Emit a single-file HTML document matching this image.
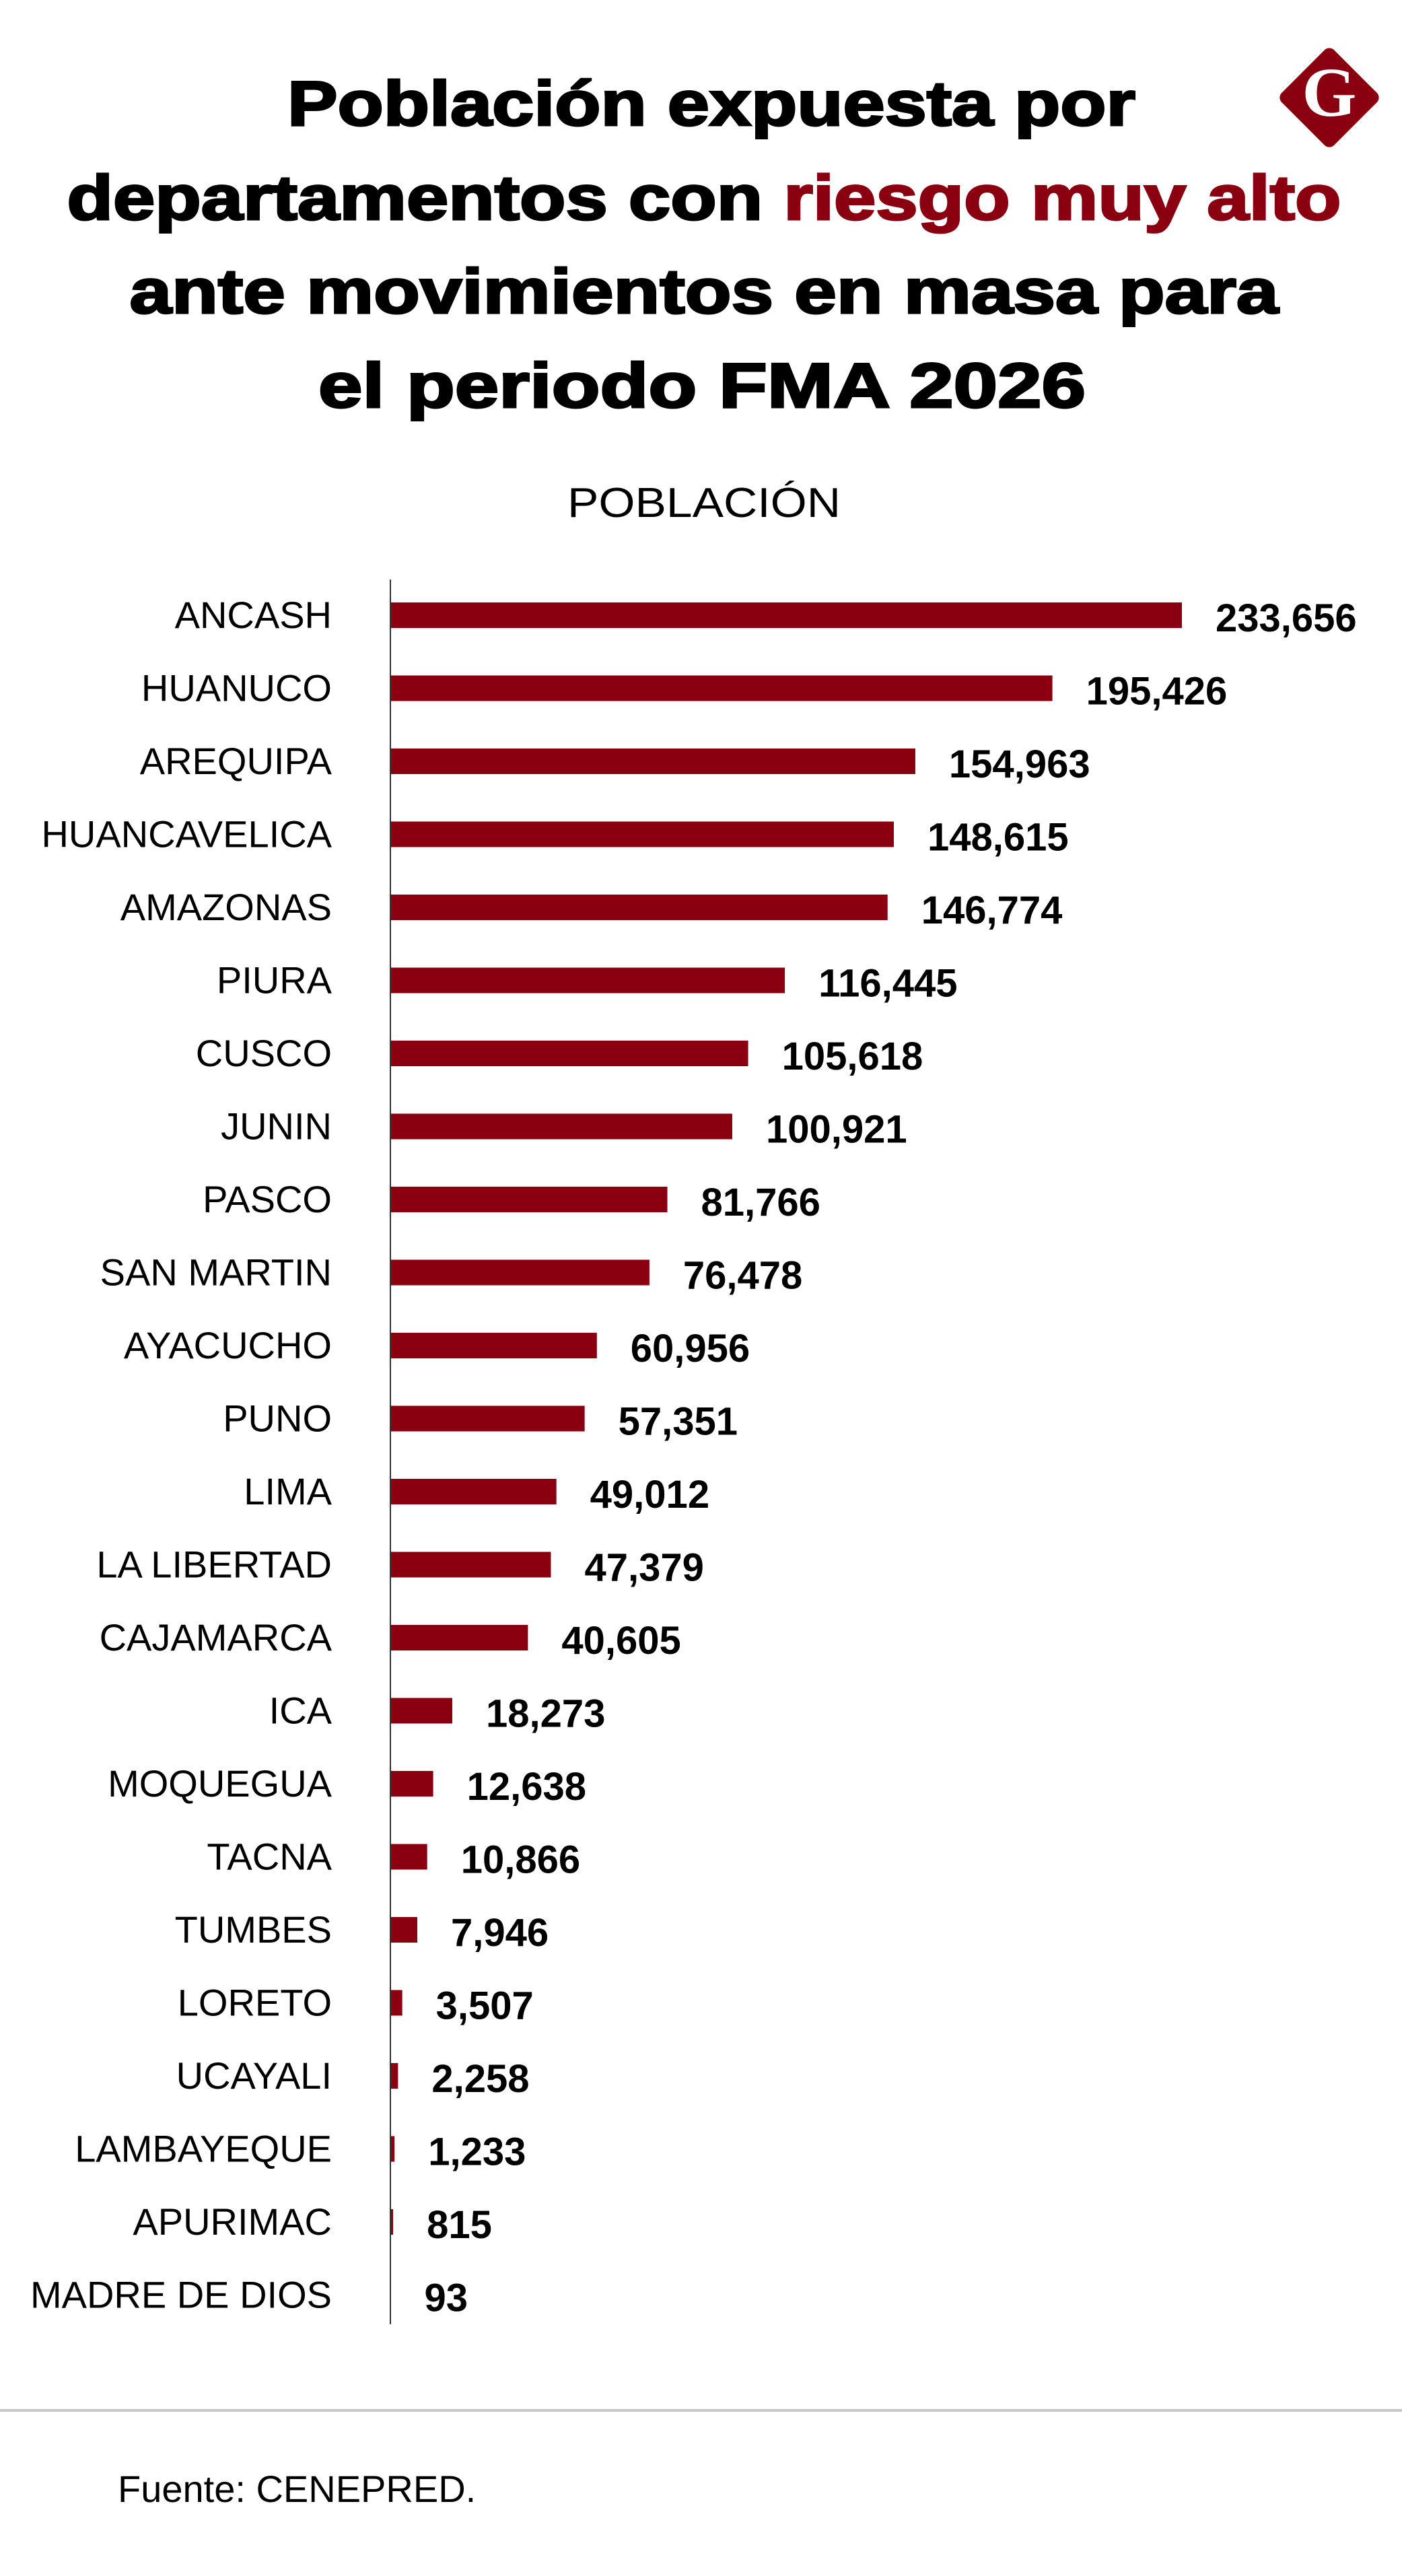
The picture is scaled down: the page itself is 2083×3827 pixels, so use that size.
<!DOCTYPE html>
<html><head><meta charset="utf-8"><style>
html,body{margin:0;padding:0;background:#fff}
svg{display:block}
</style></head><body>
<svg id="chart" width="2083" height="3827" viewBox="0 0 2083 3827" xmlns="http://www.w3.org/2000/svg">
<g font-family="Liberation Sans, sans-serif" font-weight="bold" font-size="94" fill="#000" stroke="#000" stroke-width="3" text-anchor="middle">
<text x="1057" y="186" textLength="1260" lengthAdjust="spacingAndGlyphs">Población expuesta por</text>
<text x="1046" y="326" textLength="1893" lengthAdjust="spacingAndGlyphs">departamentos con <tspan fill="#8b0010" stroke="#8b0010">riesgo muy alto</tspan></text>
<text x="1046" y="465" textLength="1707" lengthAdjust="spacingAndGlyphs">ante movimientos en masa para</text>
<text x="1043" y="605" textLength="1140" lengthAdjust="spacingAndGlyphs">el periodo FMA 2026</text>
</g>
<g>
<rect x="1920" y="90" width="110" height="110" rx="10" transform="rotate(45 1975 145)" fill="#8b0010"/>
<text x="1975" y="172" text-anchor="middle" font-family="Liberation Serif, serif" font-weight="bold" font-size="104" fill="#fff">G</text>
</g>
<text x="1046" y="768" text-anchor="middle" font-family="Liberation Sans, sans-serif" font-size="62" textLength="406" lengthAdjust="spacingAndGlyphs" fill="#000">POBLACIÓN</text>
<g id="bars"></g>
<line x1="580" y1="861" x2="580" y2="3453" stroke="#333" stroke-width="2"/>
<line x1="0" y1="3581" x2="2083" y2="3581" stroke="#c8c8c8" stroke-width="4"/>
<text x="175" y="3717" font-family="Liberation Sans, sans-serif" font-size="56" fill="#000">Fuente: CENEPRED.</text>
</svg>
<script>
const categories = ["ANCASH","HUANUCO","AREQUIPA","HUANCAVELICA","AMAZONAS","PIURA","CUSCO","JUNIN","PASCO","SAN MARTIN","AYACUCHO","PUNO","LIMA","LA LIBERTAD","CAJAMARCA","ICA","MOQUEGUA","TACNA","TUMBES","LORETO","UCAYALI","LAMBAYEQUE","APURIMAC","MADRE DE DIOS"];
const values = [233656,195426,154963,148615,146774,116445,105618,100921,81766,76478,60956,57351,49012,47379,40605,18273,12638,10866,7946,3507,2258,1233,815,93];
const valueLabels = ["233,656","195,426","154,963","148,615","146,774","116,445","105,618","100,921","81,766","76,478","60,956","57,351","49,012","47,379","40,605","18,273","12,638","10,866","7,946","3,507","2,258","1,233","815","93"];

const NS = "http://www.w3.org/2000/svg";
const x0 = 580, xMaxPx = 1176, maxVal = 233656;
const xScale = v => x0 + v / maxVal * xMaxPx;
const yFirst = 914, rowStep = 108.5;
const yScale = i => yFirst + i * rowStep;
const g = document.getElementById('bars');
categories.forEach((c, i) => {
  const cy = yScale(i);
  const lab = document.createElementNS(NS, 'text');
  lab.setAttribute('x', 493); lab.setAttribute('y', cy + 19);
  lab.setAttribute('text-anchor', 'end');
  lab.setAttribute('font-family', 'Liberation Sans, sans-serif');
  lab.setAttribute('font-size', '56');
  lab.textContent = c;
  
  
  g.appendChild(lab);
  const r = document.createElementNS(NS, 'rect');
  r.setAttribute('x', x0); r.setAttribute('y', cy - 19);
  r.setAttribute('width', Math.max(0, xScale(values[i]) - x0));
  r.setAttribute('height', 38);
  r.setAttribute('fill', '#8b0010');
  
  
  g.appendChild(r);
  const v = document.createElementNS(NS, 'text');
  v.setAttribute('x', xScale(values[i]) + 50); v.setAttribute('y', cy + 24);
  v.setAttribute('font-family', 'Liberation Sans, sans-serif');
  v.setAttribute('font-weight', 'bold');
  v.setAttribute('font-size', '58');
  v.textContent = valueLabels[i];
  
  
  g.appendChild(v);
});
</script>
</body></html>
